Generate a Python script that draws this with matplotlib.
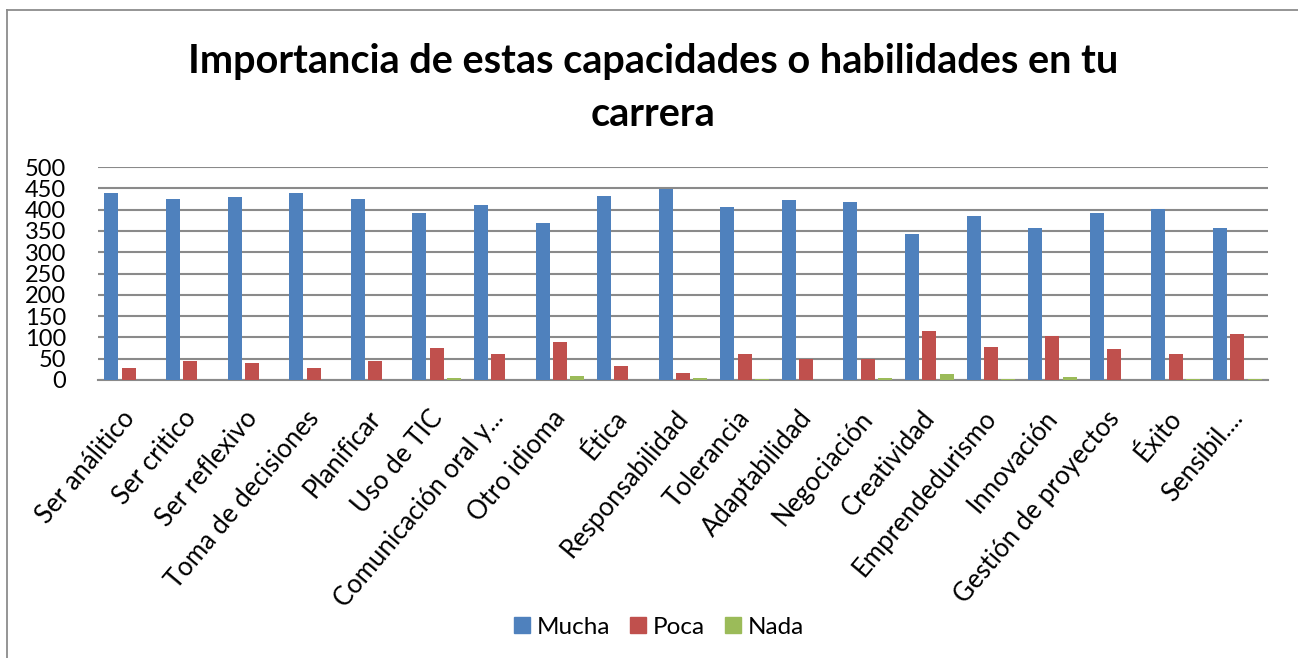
import matplotlib
matplotlib.use("Agg")
import matplotlib.pyplot as plt
from matplotlib.transforms import ScaledTranslation
from matplotlib.lines import Line2D
import numpy as np

categories = ["Ser análitico", "Ser critico", "Ser reflexivo", "Toma de decisiones",
              "Planificar", "Uso de TIC", "Comunicación oral y...", "Otro idioma", "Ética",
              "Responsabilidad", "Tolerancia", "Adaptabilidad", "Negociación", "Creatividad",
              "Emprendedurismo", "Innovación", "Gestión de proyectos", "Éxito", "Sensibil...."]
mucha = [440, 425, 429, 440, 425, 391, 410, 368, 433, 449, 406, 422, 418, 342, 384, 356, 391, 402, 356]
poca = [28, 44, 41, 28, 44, 74, 60, 89, 32, 17, 60, 49, 49, 115, 78, 104, 73, 62, 108]
nada = [0, 0, 0, 0, 0, 4, 1, 9, 0, 4, 3, 0, 4, 13, 3, 8, 0, 3, 3]
series_names = ["Mucha", "Poca", "Nada"]
colors = ["#4F81BD", "#C0504D", "#9BBB59"]
yticks = list(range(0, 501, 50))

plt.rcParams['font.family'] = ['Lato', 'DejaVu Sans']

W, H = 1298, 658
fig = plt.figure(figsize=(W / 100, H / 100), dpi=100)
ax = fig.add_axes([98 / W, 1 - 380 / H, (1268 - 98) / W, (380 - 167) / H])

x = np.arange(len(categories))
bw = 0.227
off = 0.281
for i, (vals, c, name) in enumerate(zip([mucha, poca, nada], colors, series_names)):
    ax.bar(x + (i - 1) * off, vals, width=bw, color=c, label=name, zorder=3)

ax.set_xlim(-0.5, len(categories) - 0.5)
ax.set_ylim(0, 500)
ax.set_yticks(yticks)
ax.set_yticklabels([str(v) for v in yticks], fontsize=17)
ax.yaxis.grid(True, color="#8a8a8a", linewidth=1.5, zorder=0)
ax.set_axisbelow(True)
for s in ["left", "right", "top"]:
    ax.spines[s].set_visible(False)
ax.spines["bottom"].set_color("#8a8a8a")
ax.spines["bottom"].set_linewidth(1.5)
ax.tick_params(axis="both", length=0)
ax.tick_params(axis="y", pad=23)

ax.set_xticks(x)
ax.set_xticklabels(categories, rotation=50, ha="right", va="center",
                   rotation_mode="anchor", fontsize=18.5)
ax.tick_params(axis="x", pad=0)
shift = ScaledTranslation(0.01, -0.34, fig.dpi_scale_trans)
for lab in ax.get_xticklabels():
    lab.set_transform(lab.get_transform() + shift)

fig.text(0.503, 1 - 88 / H, "Importancia de estas capacidades o habilidades en tu\ncarrera",
         ha="center", va="center", fontsize=28.5, fontweight="bold", linespacing=1.55)

handles = [Line2D([], [], marker="s", linestyle="none", markersize=11,
                  markerfacecolor=c, markeredgecolor=c) for c in colors]
fig.legend(handles, series_names, loc="center", bbox_to_anchor=(658 / W, 1 - 627 / H),
           ncol=3, frameon=False, fontsize=17.5, handletextpad=0.2, columnspacing=0.75,
           handlelength=0.8)

# chart border (left and top visible)
fig.add_artist(Line2D([7 / W, 7 / W], [0, 1 - 10 / H], transform=fig.transFigure,
                      color="#8c8c8c", linewidth=1.3))
fig.add_artist(Line2D([7 / W, 1], [1 - 10 / H, 1 - 10 / H], transform=fig.transFigure,
                      color="#8c8c8c", linewidth=1.3))

fig.savefig("out.png", dpi=100)
